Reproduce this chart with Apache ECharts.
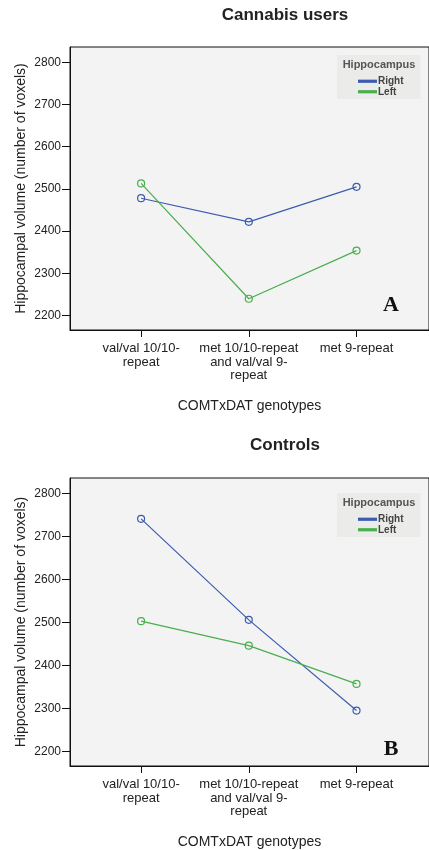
<!DOCTYPE html>
<html><head><meta charset="utf-8">
<script src="https://cdn.jsdelivr.net/npm/echarts@6/dist/echarts.min.js"></script>
<style>html,body{margin:0;padding:0;background:#fff}#c{width:429px;height:850px}</style>
</head><body><div id="c"></div>
<script>
// ---- data ----
const categories = ['val/val 10/10-\nrepeat', 'met 10/10-repeat\nand val/val 9-\nrepeat', 'met 9-repeat'];
const yTicks = [2200, 2300, 2400, 2500, 2600, 2700, 2800];
const seriesNames = ['Right', 'Left'];
const cannabisRight = [2478, 2422, 2505];
const cannabisLeft = [2513, 2240, 2354];
const controlsRight = [2741, 2506, 2295];
const controlsLeft = [2503, 2446, 2357];
const panelTitles = ['Cannabis users', 'Controls'];
const panelLetters = ['A', 'B'];
const legendTitle = 'Hippocampus';
const yName = 'Hippocampal volume (number of voxels)';
const xName = 'COMTxDAT genotypes';

// ---- styling ----
const FONT = "'Liberation Sans', Arial, sans-serif";
const BLUE = '#3d5cb0', GREEN = '#4aae4e';
const LBLUE = '#8296d6', LGREEN = '#84cf8c';
const xIdx = categories.map((c, i) => i);

const grids = [
  {left: 70, top: 47, width: 360, height: 283},
  {left: 70, top: 478, width: 360, height: 294}
];

function xAxisFor(g) {
  return {
    type: 'value', gridIndex: g, min: -0.66, max: 2.673,
    name: xName, nameLocation: 'middle', nameGap: 69, nameMoveOverlap: false,
    nameTextStyle: {fontFamily: FONT, fontSize: 14, color: '#222'},
    axisLine: {show: true, onZero: false, lineStyle: {color: '#111', width: 1}},
    axisTick: {show: true, length: 7, customValues: xIdx, lineStyle: {color: '#111'}},
    axisLabel: {customValues: xIdx, formatter: v => categories[Math.round(v)] || '',
      fontFamily: FONT, fontSize: 13, lineHeight: 13.5, color: '#222', margin: 12},
    splitLine: {show: false}
  };
}
function yAxisFor(g) {
  return {
    type: 'value', gridIndex: g, min: 2166, max: 2836,
    name: yName, nameLocation: 'middle', nameGap: 42, nameMoveOverlap: false,
    nameTextStyle: {fontFamily: FONT, fontSize: 14, color: '#222'},
    axisLine: {show: true, onZero: false, lineStyle: {color: '#111', width: 1}},
    axisTick: {show: true, length: 8, customValues: yTicks, lineStyle: {color: '#111'}},
    axisLabel: {customValues: yTicks, formatter: v => String(v),
      fontFamily: FONT, fontSize: 12, color: '#222', margin: 9},
    splitLine: {show: false}
  };
}
function lineSeries(name, vals, color, g) {
  return {
    type: 'line', name: name, xAxisIndex: g, yAxisIndex: g,
    data: vals.map((v, i) => [xIdx[i], v]),
    symbol: 'circle', symbolSize: 7,
    itemStyle: {color: 'rgba(0,0,0,0)', borderColor: color, borderWidth: 1.2},
    lineStyle: {color: color, width: 1.2},
    emphasis: {disabled: true}, silent: true
  };
}
function legendFor(top) {
  return {
    left: 337, top: top, orient: 'vertical', selectedMode: false,
    padding: [21, 17, 2, 21], backgroundColor: '#ebebe9',
    icon: 'rect', itemWidth: 17, itemHeight: 1.2, itemGap: 0,
    textStyle: {fontFamily: FONT, fontSize: 10, fontWeight: 'bold', color: '#444', lineHeight: 10.5, padding: [0, 0, 0, -3]},
    data: [
      {name: seriesNames[0], itemStyle: {color: LBLUE}},
      {name: seriesNames[1], itemStyle: {color: LGREEN}}
    ]
  };
}

const titleStyle = {fontFamily: FONT, fontSize: 17, fontWeight: 'bold', color: '#222'};
const option = {
  animation: false,
  backgroundColor: '#fff',
  grid: grids.map(g => Object.assign({show: true, backgroundColor: '#f3f3f3', borderColor: '#111', borderWidth: 1}, g)),
  title: [
    {text: panelTitles[0], left: 285, top: 7, textAlign: 'center', padding: 0, textStyle: titleStyle},
    {text: panelTitles[1], left: 285, top: 437, textAlign: 'center', padding: 0, textStyle: titleStyle},
    {text: legendTitle, left: 379, top: 59, textAlign: 'center', padding: 0, z: 10,
      textStyle: {fontFamily: FONT, fontSize: 11, fontWeight: 'bold', color: '#555'}},
    {text: legendTitle, left: 379, top: 497, textAlign: 'center', padding: 0, z: 10,
      textStyle: {fontFamily: FONT, fontSize: 11, fontWeight: 'bold', color: '#555'}},
    {text: panelLetters[0], left: 391, top: 294, textAlign: 'center', padding: 0, z: 10,
      textStyle: {fontFamily: "'Liberation Serif', 'Times New Roman', serif", fontSize: 22, fontWeight: 'bold', color: '#111'}},
    {text: panelLetters[1], left: 391, top: 738, textAlign: 'center', padding: 0, z: 10,
      textStyle: {fontFamily: "'Liberation Serif', 'Times New Roman', serif", fontSize: 22, fontWeight: 'bold', color: '#111'}}
  ],
  legend: [legendFor(55), legendFor(493)],
  xAxis: [xAxisFor(0), xAxisFor(1)],
  yAxis: [yAxisFor(0), yAxisFor(1)],
  series: [
    lineSeries(seriesNames[0], cannabisRight, BLUE, 0),
    lineSeries(seriesNames[1], cannabisLeft, GREEN, 0),
    lineSeries(seriesNames[0], controlsRight, BLUE, 1),
    lineSeries(seriesNames[1], controlsLeft, GREEN, 1)
  ]
};
const chart = echarts.init(document.getElementById('c'), null, {renderer: 'canvas'});
chart.setOption(option);
</script>
</body></html>
